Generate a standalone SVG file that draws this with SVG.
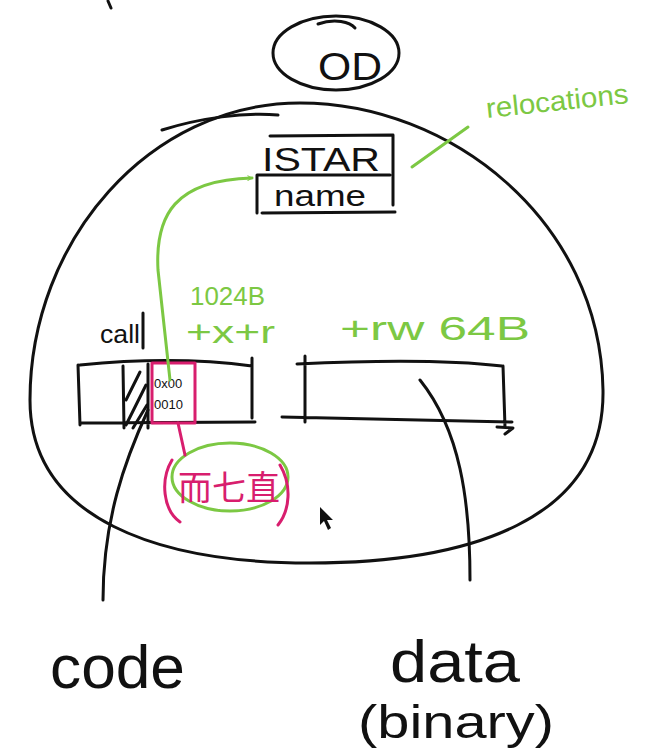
<svg xmlns="http://www.w3.org/2000/svg" width="646" height="750" viewBox="0 0 646 750">
<style>
.k{fill:none;stroke:#111;stroke-width:3;stroke-linecap:round;stroke-linejoin:round}
.g{fill:none;stroke:#7cc843;stroke-width:3;stroke-linecap:round;stroke-linejoin:round}
.m{fill:none;stroke:#d81e6e;stroke-width:3;stroke-linecap:round;stroke-linejoin:round}
.tk{fill:#111;font-family:"Liberation Sans",sans-serif}
.tg{fill:#7cc843;font-family:"Liberation Sans",sans-serif}
.tm{fill:#d81e6e;font-family:"Liberation Sans","Noto Sans CJK SC",sans-serif}
</style>
<defs>
<marker id="ga" viewBox="0 0 12 12" refX="10" refY="6" markerWidth="6" markerHeight="6" orient="auto" markerUnits="userSpaceOnUse">
<path d="M1,1 L10,6 L1,11" fill="none" stroke="#7cc843" stroke-width="2"/>
</marker>
</defs>
<rect width="646" height="750" fill="#fff"/>
<path class="k" d="M108,1 L111,8"/>

<g id="od">
<ellipse class="k" cx="336" cy="53" rx="63" ry="37"/>
<path class="k" d="M318,24 C335,18 350,22 355,28"/>
<text class="tk" x="318" y="80" font-size="38" textLength="64" lengthAdjust="spacingAndGlyphs">OD</text>
</g>

<g id="process">
<path class="k" d="M300,103 C450,103 600,220 603,390 C605,520 470,563 310,563 C160,563 30,520 30,400 C30,240 150,103 300,103 Z"/>
<path class="k" d="M162,130 C200,118 245,112 278,115"/>
</g>

<g id="symtab">
<path class="k" d="M270,136 L393,135 M393,135 L393,205 M257,175 L390,175 M257,175 L257,213 M262,213 L395,212"/>
<text class="tk" x="262" y="171" font-size="34" textLength="118" lengthAdjust="spacingAndGlyphs">ISTAR</text>
<text class="tk" x="274" y="206" font-size="30" textLength="92" lengthAdjust="spacingAndGlyphs">name</text>
</g>

<g id="relocations">
<text class="tg" x="487" y="118" font-size="28" transform="rotate(-6 487 118)" textLength="143" lengthAdjust="spacingAndGlyphs">relocations</text>
</g>

<g id="code-section">
<text class="tk" x="100" y="343" font-size="26" textLength="40" lengthAdjust="spacingAndGlyphs">call</text>
<path class="k" d="M143,313 L143,348"/>
<text class="tg" x="190" y="305" font-size="26" textLength="75" lengthAdjust="spacingAndGlyphs">1024B</text>
<text class="tg" x="186" y="343" font-size="32" textLength="89" lengthAdjust="spacingAndGlyphs">+x+r</text>
<path class="k" d="M80,365 C140,359 200,359 252,366 M78,365 L80,425 M252,358 L252,418 M80,423 L255,422 M123,366 L124,428 M148,364 L148,428"/>
<path class="k" d="M126,400 L140,372 M126,425 L146,385 M133,428 L147,405"/>
<rect class="m" x="152" y="363" width="43" height="60"/>
<text class="tk" x="154" y="388" font-size="13">0x00</text>
<text class="tk" x="154" y="409" font-size="13">0010</text>
</g>

<g id="placeholder">
<ellipse class="g" cx="230" cy="477" rx="58" ry="34"/>
<path class="m" d="M172,460 C160,480 163,510 180,522 M280,465 C292,485 290,510 278,525"/>
<text class="tm" x="178" y="500" font-size="34">而七直</text>
</g>

<g id="data-section">
<text class="tg" x="340" y="340" font-size="34" textLength="190" lengthAdjust="spacingAndGlyphs">+rw 64B</text>
<path class="k" d="M297,364 C380,360 450,360 502,366 M503,366 L505,427 M282,417 L512,422 M305,356 L305,422 M497,427 L513,428 L505,434"/>
</g>

<g id="labels">
<text class="tk" x="50" y="688" font-size="62" textLength="135" lengthAdjust="spacingAndGlyphs">code</text>
<text class="tk" x="390" y="682" font-size="60" textLength="130" lengthAdjust="spacingAndGlyphs">data</text>
<text class="tk" x="358" y="738" font-size="46" textLength="196" lengthAdjust="spacingAndGlyphs">(binary)</text>
</g>

<g id="connectors">
<path class="g" d="M170,380 L158,270 C155,215 175,180 252,178" marker-end="url(#ga)"/>
<path class="g" d="M412,167 L468,127"/>
<path class="m" d="M178,423 L185,455"/>
<path class="k" d="M148,410 C125,460 103,520 103,600"/>
<path class="k" d="M420,380 C460,430 470,500 470,580"/>
</g>

<path d="M320,507 L320,525 L324,521 L328,530 L331,528 L327,520 L333,520 Z" fill="#111"/>
</svg>
